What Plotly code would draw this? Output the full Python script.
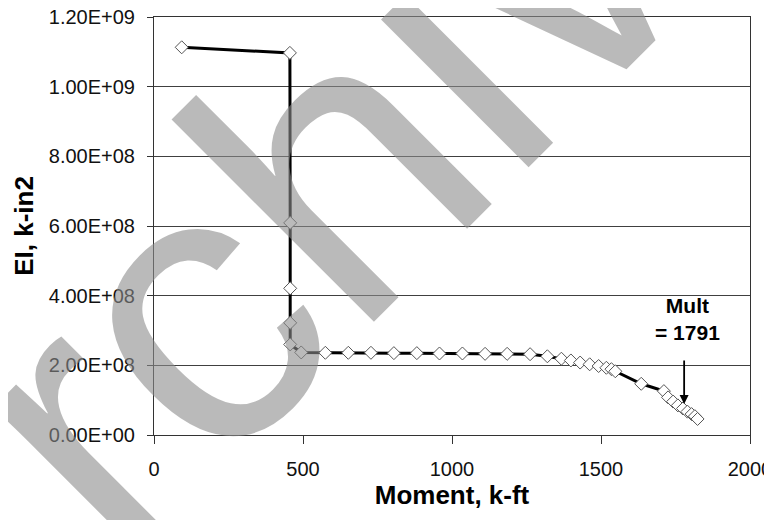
import plotly.graph_objects as go

# ---- data ----
moment = [93, 456, 457, 457, 457, 457, 494, 575, 652, 728, 805, 882, 958, 1035,
          1111, 1185, 1262, 1320, 1367, 1399, 1430, 1462, 1492, 1518, 1535, 1548,
          1635, 1711, 1725, 1742, 1758, 1775, 1790, 1804, 1815, 1824]
ei = [1.113e9, 1.097e9, 6.09e8, 4.21e8, 3.22e8, 2.60e8, 2.37e8, 2.36e8, 2.36e8,
      2.36e8, 2.35e8, 2.35e8, 2.34e8, 2.34e8, 2.33e8, 2.33e8, 2.32e8, 2.26e8,
      2.19e8, 2.14e8, 2.08e8, 2.03e8, 1.98e8, 1.93e8, 1.89e8, 1.83e8, 1.47e8,
      1.26e8, 1.08e8, 0.96e8, 0.85e8, 0.76e8, 0.67e8, 0.60e8, 0.54e8, 0.46e8]

y_tickvals = [0, 2e8, 4e8, 6e8, 8e8, 1e9, 1.2e9]
y_ticktext = ["0.00E+00", "2.00E+08", "4.00E+08", "6.00E+08", "8.00E+08",
              "1.00E+09", "1.20E+09"]
x_tickvals = [0, 500, 1000, 1500, 2000]

mult_value = 1791
mult_arrow_head = (1779, 0.89e8)

FONT = "Arial, 'Liberation Sans', sans-serif"

fig = go.Figure()
fig.add_trace(go.Scatter(
    x=moment, y=ei, mode="lines+markers",
    line=dict(color="black", width=3),
    marker=dict(symbol="diamond", size=10, color="white",
                line=dict(color="#555555", width=1)),
    showlegend=False,
))

axis_common = dict(
    showline=True, linecolor="#333333", linewidth=1, mirror=True,
    ticks="outside", tickcolor="#333333",
    tickfont=dict(family=FONT, size=20, color="#111111"),
    zeroline=False, automargin=False, ticklabeloverflow="allow",
)

fig.update_xaxes(
    range=[0, 2000], tickvals=x_tickvals, showgrid=False, ticklen=8,
    ticklabelstandoff=8,
    title=dict(text="<b>Moment, k-ft</b>", font=dict(family=FONT, size=26, color="black"),
               standoff=5),
    **axis_common,
)
fig.update_yaxes(
    range=[0, 1.2e9], tickvals=y_tickvals, ticktext=y_ticktext,
    showgrid=True, gridcolor="#404040", gridwidth=1, ticklen=6,
    ticklabelstandoff=8,
    title=dict(text="<b>EI, k-in2</b>", font=dict(family=FONT, size=26, color="black"),
               standoff=7),
    **axis_common,
)

# Mult label and arrow
fig.add_annotation(
    x=mult_value, y=3.32e8, xref="x", yref="y",
    text="<b>Mult<br>= %d</b>" % mult_value, showarrow=False,
    font=dict(family=FONT, size=21, color="black"), align="center",
    xanchor="center", yanchor="middle",
)
fig.add_annotation(
    x=mult_arrow_head[0], y=mult_arrow_head[1], xref="x", yref="y",
    text="", showarrow=True, ax=0, ay=-45,
    arrowhead=2, arrowsize=1, arrowwidth=1.8, arrowcolor="black",
)

# watermark
fig.add_annotation(
    x=0.2517, y=0.567, xref="paper", yref="paper",
    xanchor="center", yanchor="middle",
    text="Archive", showarrow=False, textangle=-45,
    font=dict(family=FONT, size=395, color="rgba(140,140,140,0.6)"),
)

# page body has an 8px margin, so the figure is shifted by 8px
fig.update_layout(
    width=764, height=512,
    margin=dict(l=146, r=22, t=9, b=85),
    paper_bgcolor="white", plot_bgcolor="white",
    font=dict(family=FONT),
)

fig.write_html("out.html")
